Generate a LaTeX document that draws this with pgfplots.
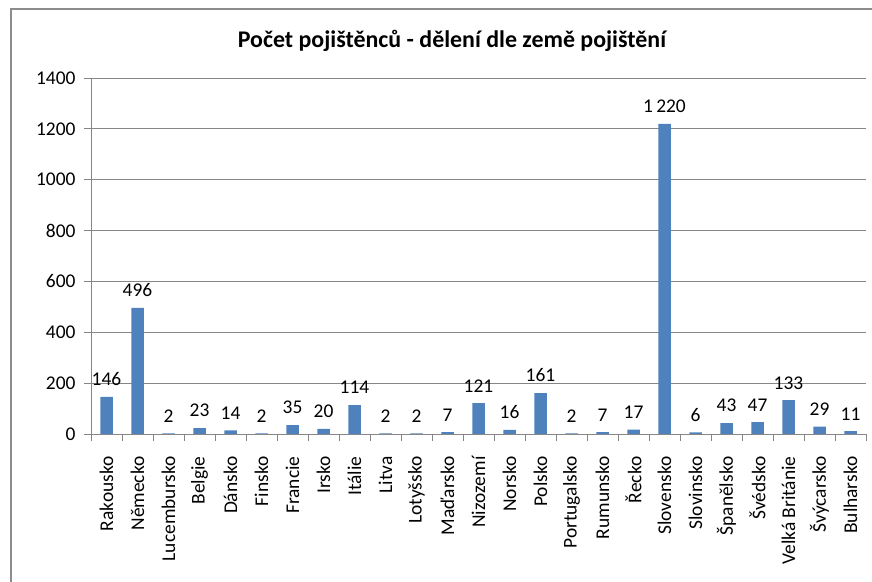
\documentclass[border=0pt]{standalone}
\usepackage{pgfplots}
\pgfplotsset{compat=1.18}
\usepackage{fontspec}
\setmainfont{Carlito}
\definecolor{barblue}{HTML}{4F81BD}
\definecolor{gridgray}{HTML}{868686}
\definecolor{framegray}{HTML}{8C8C8C}
\pgfplotstableread{
x y
0 146
1 496
2 2
3 23
4 14
5 2
6 35
7 20
8 114
9 2
10 2
11 7
12 121
13 16
14 161
15 2
16 7
17 17
18 1220
19 6
20 43
21 47
22 133
23 29
24 11
}\datatable
\begin{document}
\begin{tikzpicture}[x=1bp,y=1bp]
\useasboundingbox (0,0) rectangle (872,582);
\draw[color=framegray, line width=1.5bp] (11,-10) -- (11,573) -- (890,573);
\node[font=\fontsize{24}{28}\selectfont\bfseries] at (452,541) {Počet pojištěnců - dělení dle země pojištění};
\begin{axis}[
  at={(91bp,148bp)}, anchor=south west,
  scale only axis, width=775bp, height=356bp,
  xmin=-0.5, xmax=24.5, ymin=0, ymax=1400,
  axis x line*=bottom, axis y line*=left,
  axis line style={gridgray, line width=0.9bp},
  ytick={0,200,...,1400},
  xtick={0,...,24},
  xticklabels={Rakousko,Německo,Lucembursko,Belgie,Dánsko,Finsko,Francie,Irsko,Itálie,Litva,Lotyšsko,Maďarsko,Nizozemí,Norsko,Polsko,Portugalsko,Rumunsko,Řecko,Slovensko,Slovinsko,Španělsko,Švédsko,Velká Británie,Švýcarsko,Bulharsko},
  minor xtick={-0.5,0.5,...,24.5},
  tick align=outside,
  major tick length=7bp, minor tick length=7bp,
  major x tick style={draw=none},
  tick style={gridgray, line width=0.9bp},
  minor x tick style={gridgray, line width=0.9bp},
  ymajorgrids,
  grid style={gridgray, line width=0.9bp},
  /pgf/number format/assume math mode=true,
  yticklabel style={/pgf/number format/1000 sep={}},
  tick label style={font=\fontsize{19.5}{23}\selectfont, black},
  x tick label style={rotate=90, anchor=east, xshift=-12bp},
  y tick label style={xshift=-5bp},
  ybar, bar width=12.5bp,
  nodes near coords={\pgfmathprintnumber[1000 sep={\,}]{\pgfplotspointmeta}},
  nodes near coords style={font=\fontsize{19.5}{23}\selectfont, black, anchor=south, yshift=7.5bp},
]
\addplot[fill=barblue, draw=none] table[x=x,y=y] {\datatable};
\end{axis}
\end{tikzpicture}
\end{document}
